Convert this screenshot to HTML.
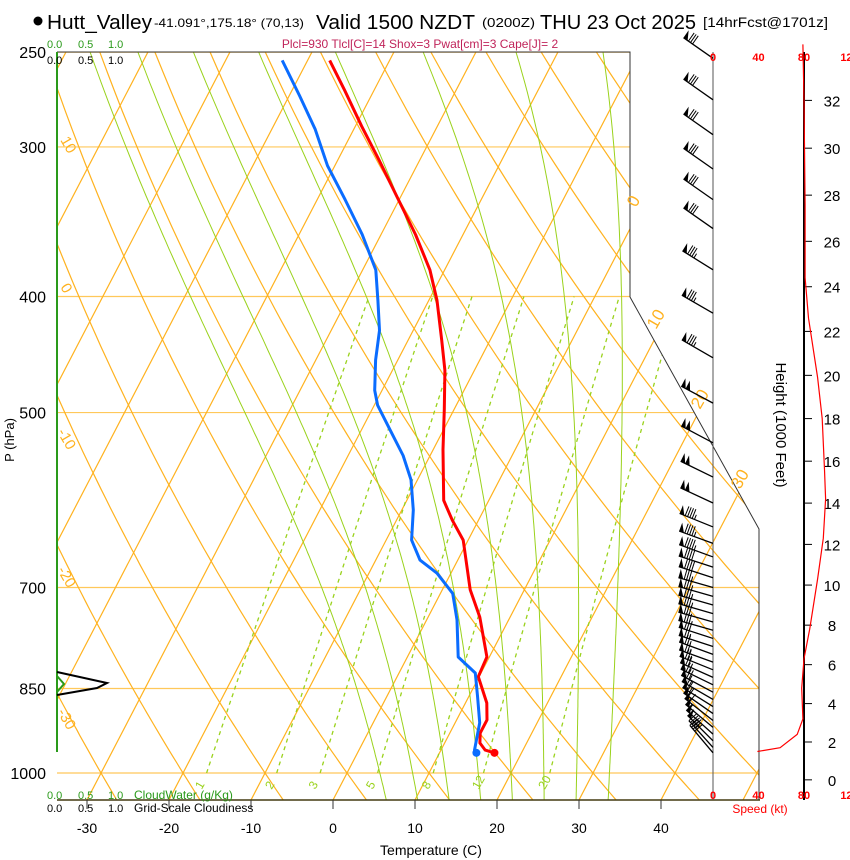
<!DOCTYPE html>
<html><head><meta charset="utf-8"><title>Skew-T Hutt_Valley</title>
<style>
html,body{margin:0;padding:0;background:#fff;}
svg{display:block;font-family:"Liberation Sans",sans-serif;}
</style></head>
<body>
<svg id="chart" width="850" height="860" viewBox="0 0 850 860" xmlns="http://www.w3.org/2000/svg">
<defs><clipPath id="plotclip"><polygon points="57,52 630,52 630,297 759,529 759,800 57,800"/></clipPath></defs>
<g id="title">
<circle cx="38" cy="21" r="4.5" fill="#000"/>
<text x="47" y="29" font-size="20" textLength="105" lengthAdjust="spacingAndGlyphs">Hutt_Valley</text>
<text x="154" y="27" font-size="12" textLength="150" lengthAdjust="spacingAndGlyphs">-41.091°,175.18° (70,13)</text>
<text x="316" y="29" font-size="20" textLength="159" lengthAdjust="spacingAndGlyphs">Valid 1500 NZDT</text>
<text x="482" y="27" font-size="13" textLength="53" lengthAdjust="spacingAndGlyphs">(0200Z)</text>
<text x="540" y="29" font-size="20" textLength="156" lengthAdjust="spacingAndGlyphs">THU 23 Oct 2025</text>
<text x="703" y="27" font-size="14" textLength="125" lengthAdjust="spacingAndGlyphs">[14hrFcst@1701z]</text>
<text x="420" y="48" font-size="12" fill="#c0245a" text-anchor="middle">Plcl=930 Tlcl[C]=14 Shox=3 Pwat[cm]=3 Cape[J]= 2</text>
</g>
<g id="grid" clip-path="url(#plotclip)"></g>
<g id="frame"></g>
<g id="profiles"></g>
<g id="axes"></g>
<g id="winds"></g>
<g id="speed"></g>
</svg>
<script>
// ---- data ----
const tempP = [254,269,288,308,332,355,380,403,435,461,497,537,592,615,639,703,741,800,831,874,903,926,944,957,962];
const tempC = [-47.3,-43.6,-39.3,-34.9,-30.1,-25.8,-21.8,-19.0,-15.9,-13.6,-11.2,-8.8,-5.5,-3.2,-0.6,3.4,6.3,9.7,9.9,12.6,13.7,13.7,14.3,15.4,16.7];
const dewP = [254,272,290,311,332,355,380,403,427,452,479,493,517,543,569,603,639,664,681,708,745,800,825,864,908,957,962];
const dewC = [-53.1,-48.7,-44.7,-40.9,-36.6,-32.3,-28.4,-26.2,-24.1,-22.7,-20.9,-19.6,-16.5,-13.3,-10.8,-8.6,-6.9,-4.6,-1.7,1.5,3.7,6.2,9.3,11.1,13.0,14.1,14.5];
const barbP = [253,274,293,313,332,351,380,413,450,491,530,566,595,623,643,660,673,687,700,712,724,736,748,760,772,784,796,808,820,832,844,856,868,880,892,904,916,928,940,952,962];
const barbSpd = [80,80,80,80,80,80,85,85,85,100,100,100,100,95,95,95,90,90,85,85,85,85,80,80,80,75,75,75,75,70,70,70,65,65,60,60,55,55,50,45,40];
const barbDir = [305,305,305,305,305,305,302,300,300,298,298,296,295,292,290,290,288,288,286,286,286,286,286,286,288,288,290,290,292,294,296,298,300,302,305,308,310,312,315,318,320];
const hgtKft = [34.3,32,27.6,24.4,22.6,19.9,18,15.6,14.2,12.3,10.3,7.8,6.3,4.8,3.2,2.4,1.7,1.5];
const spdKt = [79,80,81,81,84,92,96,98,99,97,92,85,80,78,79,74,59,39];
const pLevels = [250,300,400,500,700,850,1000];
const tTicks = [-30,-20,-10,0,10,20,30,40];
const hTicks = [0,2,4,6,8,10,12,14,16,18,20,22,24,26,28,30,32];
const spdTicks = [0,40,80,120];
const mixRatios = [1,2,3,5,8,12,20];
const dryThetas = [-40,-30,-20,-10,0,10,20,30,40,50,60,70,80,90,100,110,120,130,140,150,160];
const moistThetas = [4,8,12,16,20,24,28,32];
const isotherms = [-120,-110,-100,-90,-80,-70,-60,-50,-40,-30,-20,-10,0,10,20,30,40,50,60];

// ---- scales ----
const NS = "http://www.w3.org/2000/svg";
function yP(p){ return 773 - 520*Math.log(1000/p); }
function xT(T,p){ return 333 + 8.2*T + 0.52*(800 - yP(p)); }
function pFromZ(kft){ return 1013.25*Math.pow(1 - kft*1000/145366, 1/0.190284); }
function yZ(kft){ return yP(pFromZ(kft)); }
function xS(kt){ return 713 + kt*(804-713)/80; }
function mk(tag, attrs, parent){ const e=document.createElementNS(NS,tag); for(const k in attrs) e.setAttribute(k,attrs[k]); parent.appendChild(e); return e; }
function pathD(pts){ return pts.map((q,i)=>(i?'L':'M')+q[0].toFixed(1)+','+q[1].toFixed(1)).join(''); }

const grid = document.getElementById('grid');
const frame = document.getElementById('frame');
const prof = document.getElementById('profiles');
const axes = document.getElementById('axes');
const winds = document.getElementById('winds');
const speed = document.getElementById('speed');
const ORANGE = '#ffb21f', GREEN = '#9ad21c';

pLevels.forEach(p=>{
  const l = mk('line',{x1:57,x2:760,y1:yP(p),y2:yP(p),stroke:'#ffc85a','stroke-width':1.2},grid);
  
  
});
isotherms.forEach(T=>{
  const l = mk('line',{x1:xT(T,1100),y1:yP(1100),x2:xT(T,200),y2:yP(200),stroke:ORANGE,'stroke-width':1.2},grid);
  
  
});
dryThetas.forEach(th=>{
  const pts=[]; for(let p=1100;p>=200;p-=10){ const T=(th+273.15)*Math.pow(p/1000,0.2857)-273.15; pts.push([xT(T,p),yP(p)]); }
  const l = mk('path',{d:pathD(pts),fill:'none',stroke:ORANGE,'stroke-width':1.2},grid);
  
  
});
function es(T){ return 6.112*Math.exp(17.67*T/(T+243.5)); }
function rs(T,p){ const e=es(T); return 0.622*e/(p-e); }
function dTdp(T,p){ const Tk=T+273.15, r=rs(T,p), L=2.5e6, Rd=287, cp=1005;
  return (1/p)*(Rd*Tk + L*r)/(cp + L*L*r*0.622/(Rd*Tk*Tk)); }
moistThetas.forEach(tw=>{
  let T=tw, pts=[];
  let Td=tw; const down=[]; for(let p=1000;p<=1060;p+=5){ down.push([xT(Td,p),yP(p)]); Td+=dTdp(Td,p)*5; }
  for(let p=1000;p>=240;p-=5){ pts.push([xT(T,p),yP(p)]); T-=dTdp(T,p)*5; }
  pts = down.reverse().concat(pts);
  const l = mk('path',{d:pathD(pts),fill:'none',stroke:GREEN,'stroke-width':1},grid);
  
  
});
mixRatios.forEach(w=>{
  const pts=[]; for(let p=1000;p>=400;p-=10){ const e=w*p/(622+w); const a=Math.log(e/6.112); const Td=243.5*a/(17.67-a); pts.push([xT(Td,p),yP(p)]); }
  const l = mk('path',{d:pathD(pts),fill:'none',stroke:GREEN,'stroke-width':1.3,'stroke-dasharray':'4,4'},grid);
  
  
  const e=w*1000/(622+w), a=Math.log(e/6.112), Td=243.5*a/(17.67-a);
  const tx=xT(Td,1000)-5, ty=790;
  const t = mk('text',{x:tx,y:ty,'font-size':12,fill:GREEN,transform:`rotate(-60 ${tx} ${ty})`},axes);
  t.textContent=w;
  
  
});

const fr = mk('polyline',{points:'57,52 630,52 630,297 759,529 759,800',fill:'none',stroke:'#333','stroke-width':1},frame);


const bl = mk('line',{x1:57,x2:760,y1:800,y2:800,stroke:'#443a10','stroke-width':1.5},frame);


const gl = mk('line',{x1:57,x2:57,y1:52,y2:752,stroke:'#2a9a1a','stroke-width':2},frame);


const wl = mk('line',{x1:713,x2:713,y1:52,y2:800,stroke:'#555','stroke-width':1},frame);


const hl = mk('line',{x1:804,x2:804,y1:52,y2:800,stroke:'#000','stroke-width':2},frame);



const cw = mk('polyline',{points:'57,672 107,683 97,688 57,695',fill:'none',stroke:'#000','stroke-width':2},prof);


const cg = mk('polyline',{points:'57,676 64,684 57,692',fill:'none',stroke:'#2a9a1a','stroke-width':2},prof);



const tPts = tempP.map((p,i)=>[xT(tempC[i],p),yP(p)]);
const tl = mk('path',{d:pathD(tPts),fill:'none',stroke:'#ff0000','stroke-width':3,'stroke-linejoin':'round'},prof);


const dPts = dewP.map((p,i)=>[xT(dewC[i],p),yP(p)]);
const dl = mk('path',{d:pathD(dPts),fill:'none',stroke:'#0a6cff','stroke-width':3,'stroke-linejoin':'round'},prof);


const td = mk('circle',{cx:tPts[tPts.length-1][0],cy:tPts[tPts.length-1][1],r:4,fill:'#ff0000'},prof);


const dd = mk('circle',{cx:dPts[dPts.length-1][0],cy:dPts[dPts.length-1][1],r:4,fill:'#0a6cff'},prof);



pLevels.forEach(p=>{
  const t = mk('text',{x:46,y:yP(p)+6,'font-size':16,'text-anchor':'end'},axes);
  t.textContent=p;
  
  
});
const yt = mk('text',{x:14,y:440,'font-size':13,'text-anchor':'middle',transform:'rotate(-90 14 440)'},axes);
yt.textContent='P (hPa)';


tTicks.forEach(T=>{
  const x=333+8.2*T;
  const k = mk('line',{x1:x,x2:x,y1:800,y2:809,stroke:'#333','stroke-width':1},axes);
  
  
  const t = mk('text',{x:x,y:833,'font-size':14,'text-anchor':'middle'},axes);
  t.textContent=T;
  
  
});
const xt = mk('text',{x:431,y:855,'font-size':14,'text-anchor':'middle'},axes);
xt.textContent='Temperature (C)';



const leftLab = [['10',60,140],['0',60,287],['-10',57,432],['-20',57,570],['-30',57,712]];
leftLab.forEach(a=>{
  const t = mk('text',{x:a[1],y:a[2],'font-size':15,fill:ORANGE,transform:`rotate(60 ${a[1]} ${a[2]})`},axes);
  t.textContent=a[0];
  
  
});
const rightLab = [['0',636,208],['10',656,330],['20',700,410],['30',740,490]];
rightLab.forEach(a=>{
  const t = mk('text',{x:a[1],y:a[2],'font-size':17,fill:ORANGE,transform:`rotate(-60 ${a[1]} ${a[2]})`},axes);
  t.textContent=a[0];
  
  
});
[['0.0',47,48,'#2a9a1a'],['0.5',78,48,'#2a9a1a'],['1.0',108,48,'#2a9a1a'],['0.0',47,64,'#000'],['0.5',78,64,'#000'],['1.0',108,64,'#000'],
 ['0.0',47,799,'#2a9a1a'],['0.5',78,799,'#2a9a1a'],['1.0',108,799,'#2a9a1a'],['0.0',47,812,'#000'],['0.5',78,812,'#000'],['1.0',108,812,'#000']].forEach(a=>{
  const t = mk('text',{x:a[1],y:a[2],'font-size':11,fill:a[3]},axes);
  t.textContent=a[0];
  
  
});
const cwl = mk('text',{x:134,y:799,'font-size':12,fill:'#2a9a1a'},axes);
cwl.textContent='CloudWater (g/Kg)';


const gsl = mk('text',{x:134,y:812,'font-size':12,fill:'#000'},axes);
gsl.textContent='Grid-Scale Cloudiness';



[61,799].forEach(yy=>{
  spdTicks.forEach(s=>{
    const t = mk('text',{x:xS(s),y:yy,'font-size':11,'font-weight':'bold',fill:'#ff0000','text-anchor':'middle'},speed);
    t.textContent=s;
    
    
  });
});
const sl = mk('text',{x:760,y:813,'font-size':12,fill:'#ff0000','text-anchor':'middle'},speed);
sl.textContent='Speed (kt)';


hTicks.forEach(h=>{
  const y=yZ(h);
  const k = mk('line',{x1:804,x2:812,y1:y,y2:y,stroke:'#000','stroke-width':1},speed);
  
  
  const t = mk('text',{x:832,y:y+6,'font-size':15,'text-anchor':'middle'},speed);
  t.textContent=h;
  
  
});
const ht = mk('text',{x:776,y:425,'font-size':15,'text-anchor':'middle',transform:'rotate(90 776 425)'},speed);
ht.textContent='Height (1000 Feet)';


const sp = mk('path',{d:pathD(hgtKft.map((h,i)=>[xS(spdKt[i]),yZ(h)])),fill:'none',stroke:'#ff0000','stroke-width':1.2},speed);



barbP.forEach((p,i)=>{
  const bx=713, by=yP(p), d=barbDir[i]*Math.PI/180;
  const ux=Math.sin(d), uy=-Math.cos(d);
  const L=36, tx=bx+ux*L, ty=by+uy*L;
  const px=-uy, py=ux;
  const nx = (py<0)?px:-px, ny=(py<0)?py:-py;
  const g = mk('g',{},winds);
  
  
  mk('line',{x1:bx,y1:by,x2:tx,y2:ty,stroke:'#000','stroke-width':1.3},g);
  let s=barbSpd[i], pos=0;
  while(s>=50){
    const x0=tx-ux*pos, y0=ty-uy*pos, x1=tx-ux*(pos+5), y1=ty-uy*(pos+5);
    mk('polygon',{points:`${x0},${y0} ${x0+nx*9},${y0+ny*9} ${x1},${y1}`,fill:'#000'},g);
    pos+=5; s-=50;
  }
  if(pos>0) pos+=1;
  while(s>=10){
    const x0=tx-ux*pos, y0=ty-uy*pos;
    mk('line',{x1:x0,y1:y0,x2:x0+nx*10,y2:y0+ny*10,stroke:'#000','stroke-width':1},g);
    pos+=2.5; s-=10;
  }
  if(s>=5){
    const x0=tx-ux*pos, y0=ty-uy*pos;
    mk('line',{x1:x0,y1:y0,x2:x0+nx*5,y2:y0+ny*5,stroke:'#000','stroke-width':1},g);
  }
});
</script>
</body></html>
